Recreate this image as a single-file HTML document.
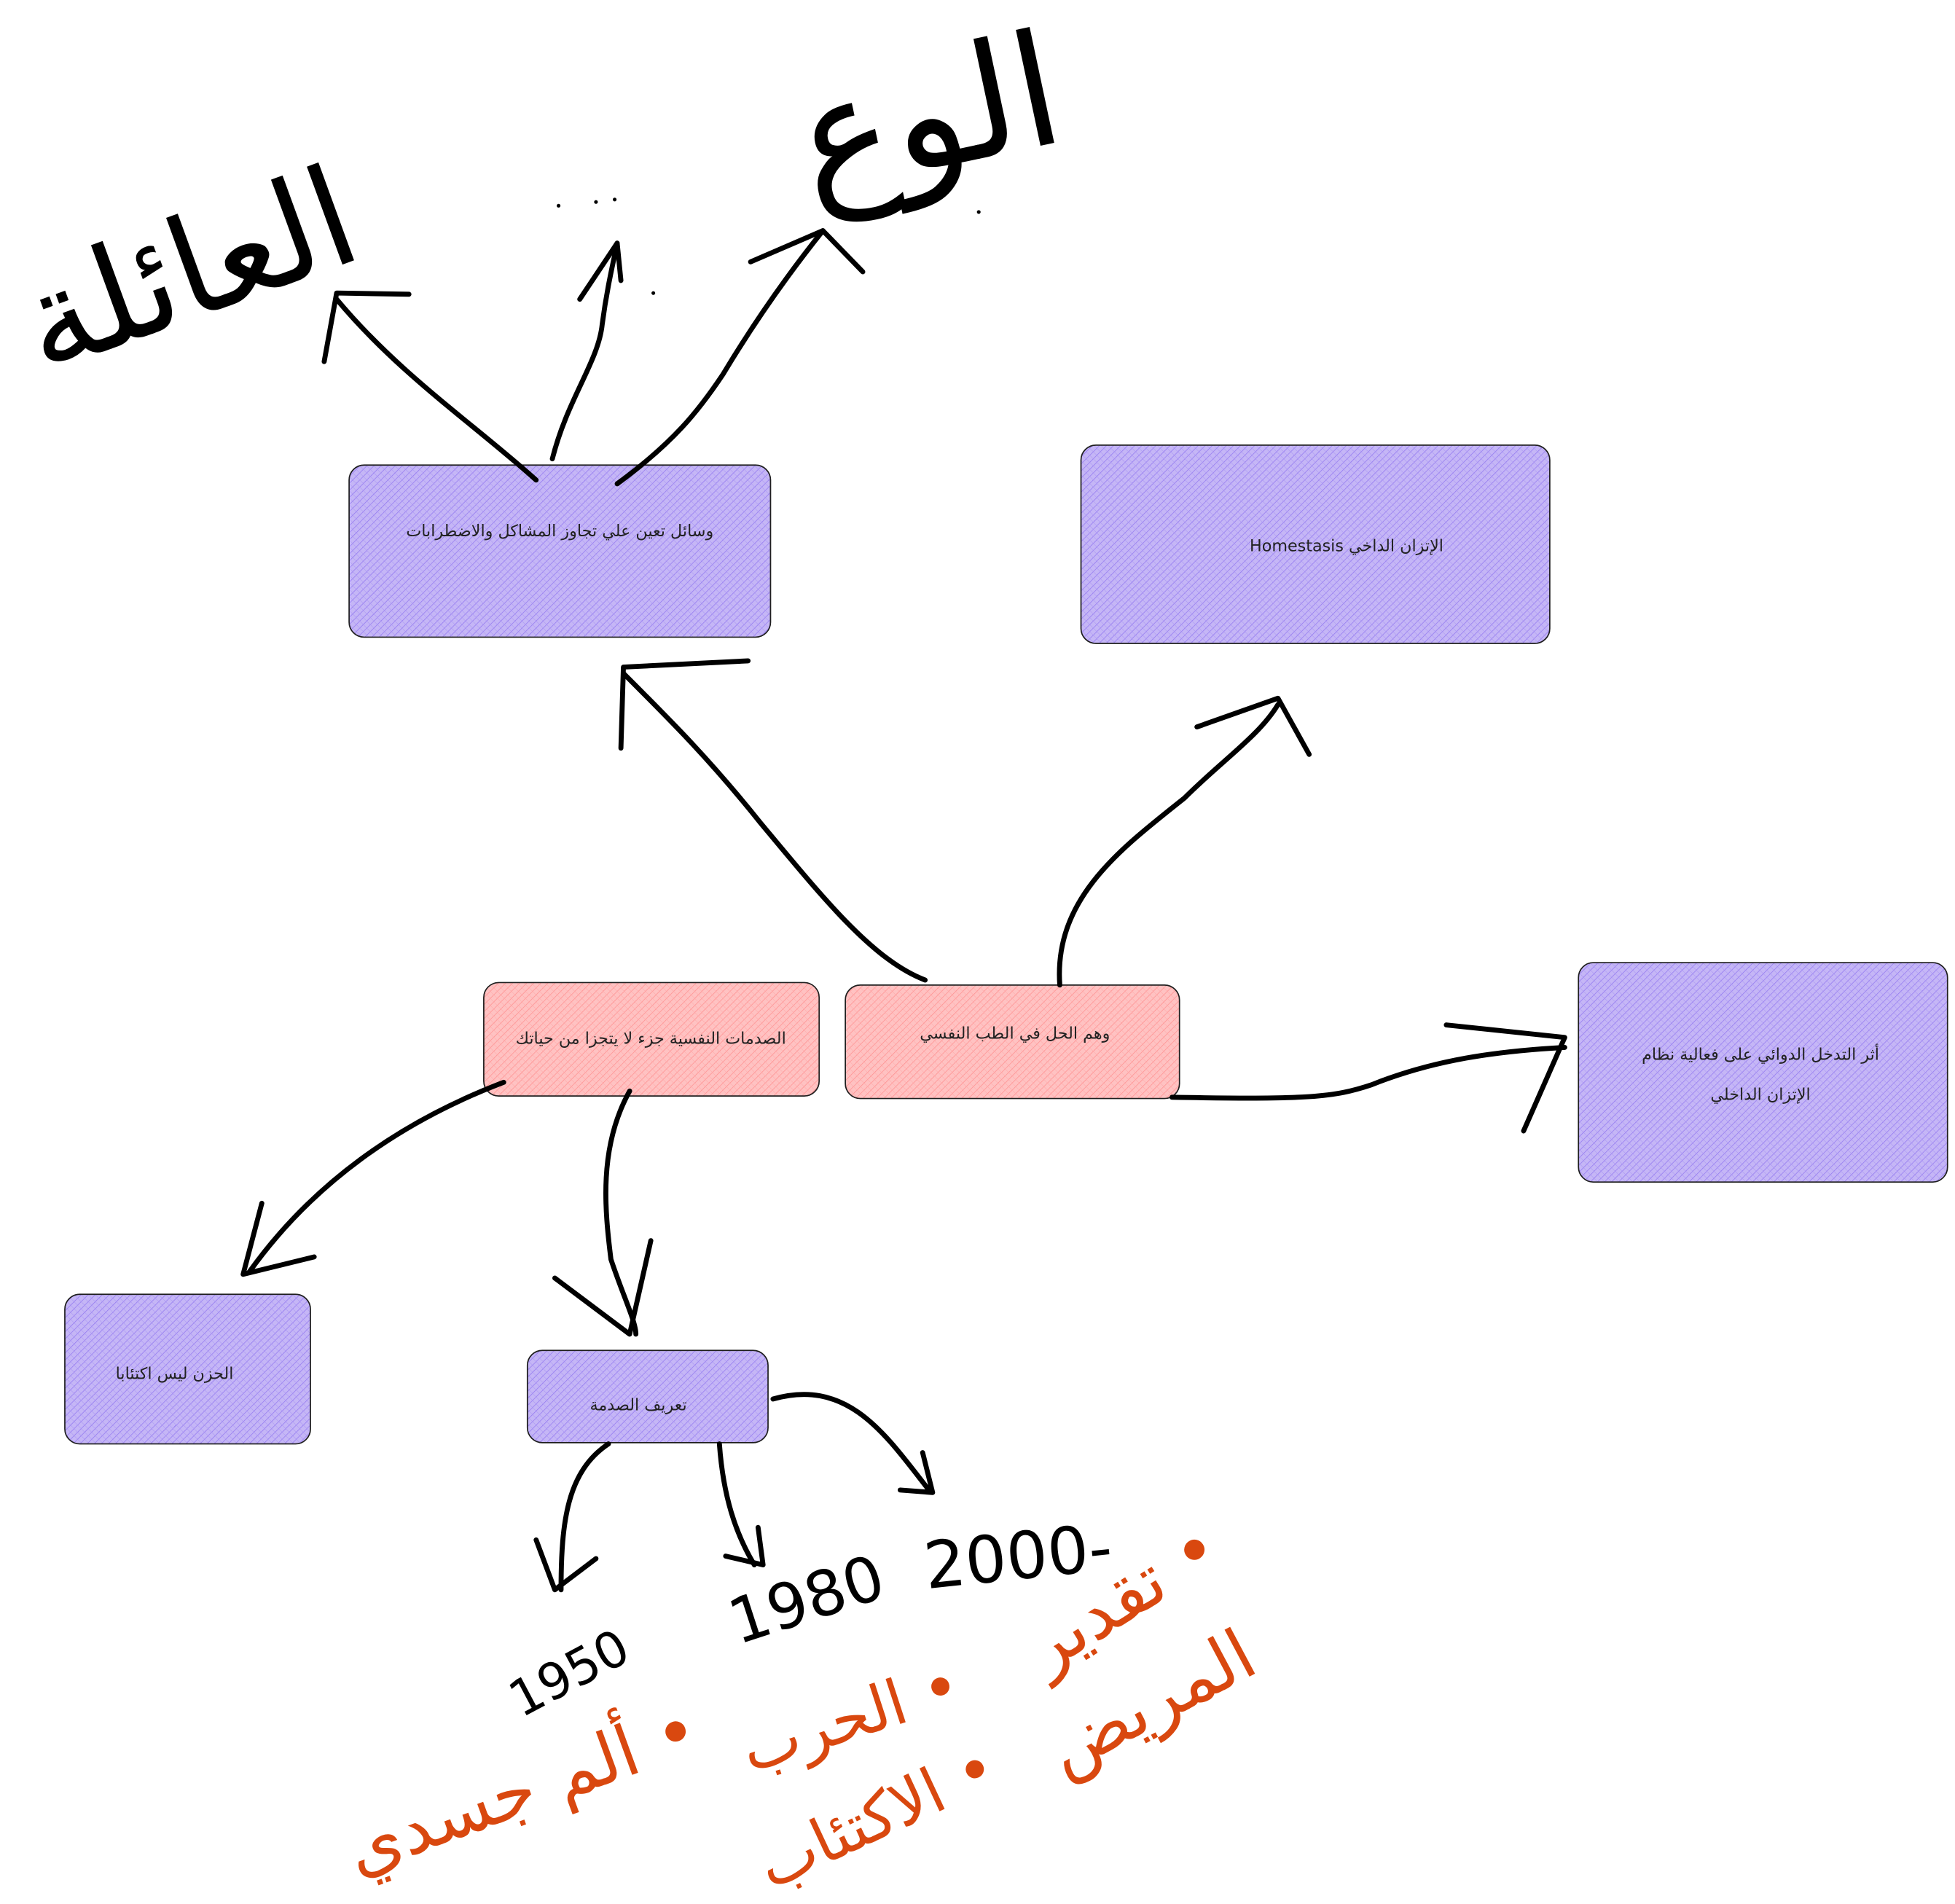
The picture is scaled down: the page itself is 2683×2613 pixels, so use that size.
<!DOCTYPE html>
<html><head><meta charset="utf-8"><style>
html,body{margin:0;padding:0;background:#fff}
svg{display:block}
.lbl{font-family:"DejaVu Sans","Liberation Sans",sans-serif;font-size:13px;fill:#222}
.hw{font-family:"DejaVu Sans","Liberation Sans",sans-serif;fill:#000}
.or{font-family:"DejaVu Sans","Liberation Sans",sans-serif;fill:#d9480f}
</style></head><body>
<svg width="2683" height="2613" viewBox="0 0 1568 1527" preserveAspectRatio="none" xmlns="http://www.w3.org/2000/svg">
<defs>
<pattern id="pp" width="4" height="4" patternUnits="userSpaceOnUse" patternTransform="rotate(45)">
<rect width="4" height="4" fill="#c5b6f6"/><line x1="0" y1="0" x2="0" y2="4" stroke="#8f74f0" stroke-width="0.8"/><line x1="0" y1="0" x2="4" y2="0" stroke="#a996f3" stroke-width="0.6"/></pattern>
<pattern id="pk" width="4" height="4" patternUnits="userSpaceOnUse" patternTransform="rotate(45)">
<rect width="4" height="4" fill="#ffc2c2"/><line x1="0" y1="0" x2="0" y2="4" stroke="#ff8c8c" stroke-width="0.8"/><line x1="0" y1="0" x2="4" y2="0" stroke="#ffa8a8" stroke-width="0.6"/></pattern>
</defs>
<g stroke="#1e1e1e" stroke-width="1">
<rect x="280" y="373" width="338" height="138" rx="12" fill="url(#pp)"/>
<rect x="867" y="357" width="376" height="159" rx="12" fill="url(#pp)"/>
<rect x="1266" y="772" width="296" height="176" rx="12" fill="url(#pp)"/>
<rect x="388" y="788" width="269" height="91" rx="12" fill="url(#pk)"/>
<rect x="678" y="790" width="268" height="91" rx="12" fill="url(#pk)"/>
<rect x="52" y="1038" width="197" height="120" rx="12" fill="url(#pp)"/>
<rect x="423" y="1083" width="193" height="74" rx="12" fill="url(#pp)"/>
</g>
<g direction="rtl" text-anchor="middle">
<text class="lbl" x="449" y="430">وسائل تعين علي تجاوز المشاكل والاضطرابات</text>
<text class="lbl" x="1080" y="442">الإتزان الداخي Homestasis</text>
<text class="lbl" x="1412" y="850">أثر التدخل الدوائي على فعالية نظام</text>
<text class="lbl" x="1412" y="882">الإتزان الداخلي</text>
<text class="lbl" x="522" y="837">الصدمات النفسية جزء لا يتجزا من حياتك</text>
<text class="lbl" x="814" y="833">وهم الحل في الطب النفسي</text>
<text class="lbl" x="140" y="1106">الحزن ليس اكتئابا</text>
<text class="lbl" x="512" y="1131">تعريف الصدمة</text>
</g>
<g fill="none" stroke="#000" stroke-width="4" stroke-linecap="round" stroke-linejoin="round">
<path d="M430,385 C380,340 320,300 270,240"/><path d="M260,290 L270,235 L328,236"/>
<path d="M443,368 C455,320 480,290 483,260 C487,230 492,210 495,195"/><path d="M465,240 L495,195 L498,225"/>
<path d="M495,388 C540,355 560,330 580,300 C610,250 640,210 660,185"/><path d="M602,210 L660,185 L692,218"/>
<path d="M742,786 C700,770 660,720 610,660 C570,610 540,580 500,540"/><path d="M498,600 L500,535 L600,530"/>
<path d="M850,790 C845,720 900,680 950,640 C980,610 1010,590 1025,565"/><path d="M960,583 L1025,560 L1050,605"/>
<path d="M940,880 C1050,882 1070,880 1100,870 C1150,850 1200,843 1255,840"/><path d="M1160,822 L1255,832 L1222,907"/>
<path d="M404,868 C320,900 250,950 200,1020"/><path d="M210,965 L195,1022 L252,1008"/>
<path d="M505,875 C480,920 485,970 490,1010 C500,1040 510,1060 510,1070"/><path d="M445,1025 L505,1070 L522,995"/>
<path d="M488,1158 C455,1180 450,1220 450,1275"/><path d="M430,1235 L445,1275 L478,1250"/>
<path d="M577,1158 C580,1200 590,1230 605,1255"/><path d="M582,1248 L612,1255 L608,1225"/>
<path d="M620,1122 C680,1105 710,1150 745,1195"/><path d="M722,1195 L748,1197 L740,1165"/>
</g>
<text class="hw" x="398" y="1362" font-size="40" transform="rotate(-28 440 1330)">1950</text>
<text class="hw" x="580" y="1305" font-size="50" transform="rotate(-18 630 1275)">1980</text>
<text class="hw" x="740" y="1268" font-size="52" transform="rotate(-6 800 1240)">2000-</text>
<g direction="rtl" text-anchor="middle">
<text class="hw" x="745" y="135" font-size="125" transform="rotate(-12 745 95)">الوع</text>
<text class="hw" x="150" y="255" font-size="110" transform="rotate(-20 150 215)">العائلة</text>
<text class="or" x="415" y="1455" font-size="56" transform="rotate(-20 415 1425)">• ألم جسدي</text>
<text class="or" x="680" y="1395" font-size="50" transform="rotate(-18 680 1370)">• الحرب</text>
<text class="or" x="700" y="1475" font-size="50" transform="rotate(-25 700 1450)">• الاكتئاب</text>
<text class="or" x="900" y="1300" font-size="56" transform="rotate(-32 900 1280)">• تقدير</text>
<text class="or" x="920" y="1385" font-size="56" transform="rotate(-28 920 1360)">المريض</text>
</g>
<g fill="#000"><circle cx="448" cy="165" r="1.5"/><circle cx="478" cy="162" r="1.5"/><circle cx="493" cy="160" r="1.5"/><circle cx="524" cy="235" r="1.5"/><circle cx="785" cy="170" r="1.5"/></g>
</svg>
</body></html>
